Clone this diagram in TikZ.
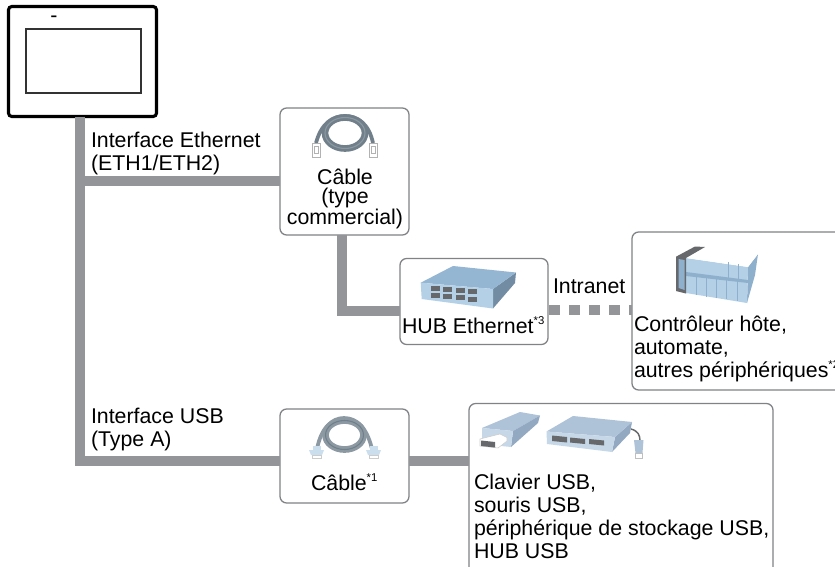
\documentclass[tikz,border=0pt]{standalone}
\usepackage{fontspec}
\setmainfont{Liberation Sans}
\newcommand{\supnote}[1]{\raisebox{0.42em}{\fontsize{8.5}{8}\selectfont #1}}
\definecolor{wire}{HTML}{939598}
\definecolor{frameg}{HTML}{808285}
\definecolor{cabg}{HTML}{707F8A}
\definecolor{cabh}{HTML}{8C99A3}
\definecolor{icolight}{HTML}{B3D0E6}
\definecolor{icomid}{HTML}{8FB0CC}
\definecolor{icotop}{HTML}{94B6D2}
\definecolor{usbtop}{HTML}{AEC2D8}
\definecolor{usbfront}{HTML}{C6D8E8}
\definecolor{usbside}{HTML}{93A9C2}
\definecolor{slot}{HTML}{66686B}
\tikzset{
  every node/.style={inner sep=0pt,outer sep=0pt},
  devbox/.style={draw=frameg,line width=0.95pt,rounded corners=5pt,fill=white,anchor=north west},
  wirel/.style={draw=wire,line width=7.5pt,line join=miter},
  txt/.style={font=\fontsize{16}{17.3}\selectfont,align=left,anchor=north west,text=black},
  txtc/.style={font=\fontsize{16}{14.4}\selectfont,align=center,anchor=north},
  cablering/.style={draw=cabg,line width=5pt},
  cableleg/.style={draw=cabg,line width=2.8pt},
  ringhi/.style={draw=cabh,line width=0.8pt},
}
\begin{document}
\begin{tikzpicture}[x=0.75pt,y=-0.75pt]
\useasboundingbox (0,0) rectangle (835,567);
\clip (0,0) rectangle (835,567);
\fill[white] (0,0) rectangle (835,567);

% frames (named first, so that connectors can refer to them)
\node[devbox,minimum width=96.75pt,minimum height=95.25pt] (cab1) at (280,108) {};
\node[devbox,minimum width=111pt,minimum height=64.5pt] (hub) at (400,258.5) {};
\node[devbox,minimum width=180pt,minimum height=118.5pt] (plc) at (632,232) {};
\node[devbox,minimum width=96.75pt,minimum height=70.5pt] (cab2) at (280,409) {};
\node[devbox,minimum width=228pt,minimum height=135pt] (usb) at (469,403.5) {};
\node[draw=black,line width=2.3pt,rounded corners=2.5pt,fill=white,minimum width=111pt,minimum height=82.5pt,anchor=north west] (panel) at (8.5,6.5) {};
\node[draw=black!80,line width=1.6pt,fill=white,minimum width=86pt,minimum height=48pt,anchor=north west] (screen) at (26,29) {};
\node[font=\fontsize{16}{16}\selectfont] (dash) at (54,19) {-};

% connectors
\coordinate (busend) at (80,466);
\coordinate (j1) at (80,181);
\coordinate (j2) at (80,461);
\coordinate (hubv) at (342,311);
\coordinate (intr) at (548,310);
\draw[wirel] (panel.south -| busend) -- (busend);
\draw[wirel] (j1) -- (j1 -| cab1.west);
\draw[wirel] (j2) -- (j2 -| cab2.west);
\draw[wirel] (j2 -| cab2.east) -- (j2 -| usb.west);
\draw[wirel] (cab1.south -| hubv) -- (hubv) -- (hubv -| hub.west);
\draw[draw=wire,line width=7.5pt,dash pattern=on 8.25pt off 6.75pt] ([xshift=1.1pt]hub.east |- intr) -- (plc.west |- intr);

% Ethernet cable icon
\draw[cableleg] (316,143) .. controls (321,124) and (332,116) .. (345,116) .. controls (358,116) and (369,124) .. (373,143);
\draw[cablering] (345,133) ellipse (20 and 15.5);
\draw[ringhi] (345,133) ellipse (20 and 15.5);
\draw[draw=gray!60,fill=white,line width=0.6pt] (312.5,143) rectangle (320,157);
\draw[draw=gray!60,line width=0.5pt] (314.5,146) rectangle (318,153);
\draw[draw=gray!60,fill=white,line width=0.6pt] (369.5,143) rectangle (377,157);
\draw[draw=gray!60,line width=0.5pt] (371.5,146) rectangle (375,153);

% Ethernet hub icon
\fill[icomid!80!black] (516,272.5) -- (515,283) -- (493,308.5) -- (493,289) -- cycle;
\fill[icotop] (420.7,282.7) -- (453,266) -- (516,272.5) -- (493,289) -- cycle;
\fill[icolight] (420.7,282.7) -- (493,289) -- (493,308.5) -- (421.7,299) -- cycle;
\foreach \px/\py in {431/285.7,443/286.7,456/287.7,468/289,431/292.7,443/294,456/295,468/296.5}{
  \fill[slot] (\px,\py) rectangle ++(9,5.2);
}

% controller icon
\fill[icomid] (748,267) -- (758,254) -- (755,275) -- (747,303) -- cycle;
\fill[icolight] (686,258) -- (748,267) -- (747,303) -- (686,293) -- cycle;
\fill[white] (705,247) -- (758,254) -- (748,267) -- (686,258) -- cycle;
\fill[icomid] (686,272) -- (748,280) -- (748,283) -- (686,276) -- cycle;
\foreach \a/\b/\c/\d in {696/276/696/295,706/278/706/297,716/279/716/298,726/280/726/299,737/281/737/301,728/262/728/280,738/264/738/281}{
  \draw[icomid,line width=0.5pt] (\a,\b) -- (\c,\d);
}
\fill[slot] (676,256.7) -- (695,246.5) -- (705,247) -- (686,258) -- (686,293.5) -- (676,291) -- cycle;
\fill[icomid] (678.5,259) -- (684.5,260) -- (684.5,290) -- (678.5,288) -- cycle;

% USB stick icon
\fill[usbtop] (482,428) -- (520,412) -- (540,415.5) -- (513,431) -- cycle;
\fill[usbside] (513,431) -- (540,415.5) -- (538,423) -- (511,447) -- cycle;
\fill[usbfront] (482,428) -- (513,431) -- (511,447) -- (482,444) -- cycle;
\fill[white,draw=gray!40,line width=0.4pt] (480,439) -- (500,434) -- (507,437.5) -- (507,441) -- (498,448) -- (480,446) -- cycle;
\fill[slot] (481,440.5) -- (495,442) -- (495,447.5) -- (481,446) -- cycle;

% USB hub icon
\fill[usbside] (632,422) -- (630,433) -- (612,452) -- (615,437) -- cycle;
\fill[usbtop] (546.5,431.5) -- (573,416) -- (632,422) -- (615,437) -- cycle;
\fill[usbfront] (546.5,431.5) -- (615,437) -- (612,452) -- (547,444) -- cycle;
\fill[slot] (552,435.5) -- (567,437) -- (567,442.5) -- (552,441) -- cycle;
\fill[slot] (570,437.5) -- (585,439) -- (585,444) -- (570,442.5) -- cycle;
\fill[slot] (589,439) -- (604,440.5) -- (604,445.5) -- (589,444) -- cycle;
\draw[slot,line width=1.1pt] (631,429) .. controls (638,431) and (640,435) .. (640,441);
\fill[usbtop] (634,440) -- (643.5,440) -- (642.5,453) -- (635.5,453) -- cycle;
\fill[white,draw=gray!50,line width=0.4pt] (635.5,453) rectangle (642.5,458);

% serial cable icon
\draw[cableleg,draw=cabh] (317,449) .. controls (321,428) and (332,418) .. (344,418) .. controls (357,418) and (367,428) .. (372,449);
\draw[cablering,draw=cabh] (344.5,435) ellipse (19 and 14.5);
\draw[draw=cabg,line width=0.8pt] (344.5,435) ellipse (19 and 14.5);
\fill[icolight!70!white] (313,446) rectangle (320.5,450);
\fill[icolight!70!white] (309,450) -- (324,450) -- (322,455) -- (311,455) -- cycle;
\fill[white,draw=gray!40,line width=0.3pt] (312,455) rectangle (321,458);
\fill[icolight!70!white] (370,446) rectangle (377.5,450);
\fill[icolight!70!white] (366,450) -- (381,450) -- (379,455) -- (368,455) -- cycle;
\fill[white,draw=gray!40,line width=0.3pt] (369,455) rectangle (378,458);

% labels
\node[txt] (t1) at (91,132) {Interface Ethernet\\(ETH1/ETH2)};
\node[txtc] (t2) at (345,169) {Câble\\(type\\commercial)};
\node[txt] (t3) at (402,317) {HUB Ethernet\supnote{*3}};
\node[txt] (t4) at (553,279) {Intranet};
\node[txt] (t5) at (634,316) {Contrôleur hôte,\\automate,\\autres périphériques\supnote{*2}};
\node[txt] (t6) at (91,408) {Interface USB\\(Type A)};
\node[txt] (t7) at (311,474) {Câble\supnote{*1}};
\node[txt] (t8) at (474,474) {Clavier USB,\\souris USB,\\périphérique de stockage USB,\\HUB USB};
\end{tikzpicture}
\end{document}
